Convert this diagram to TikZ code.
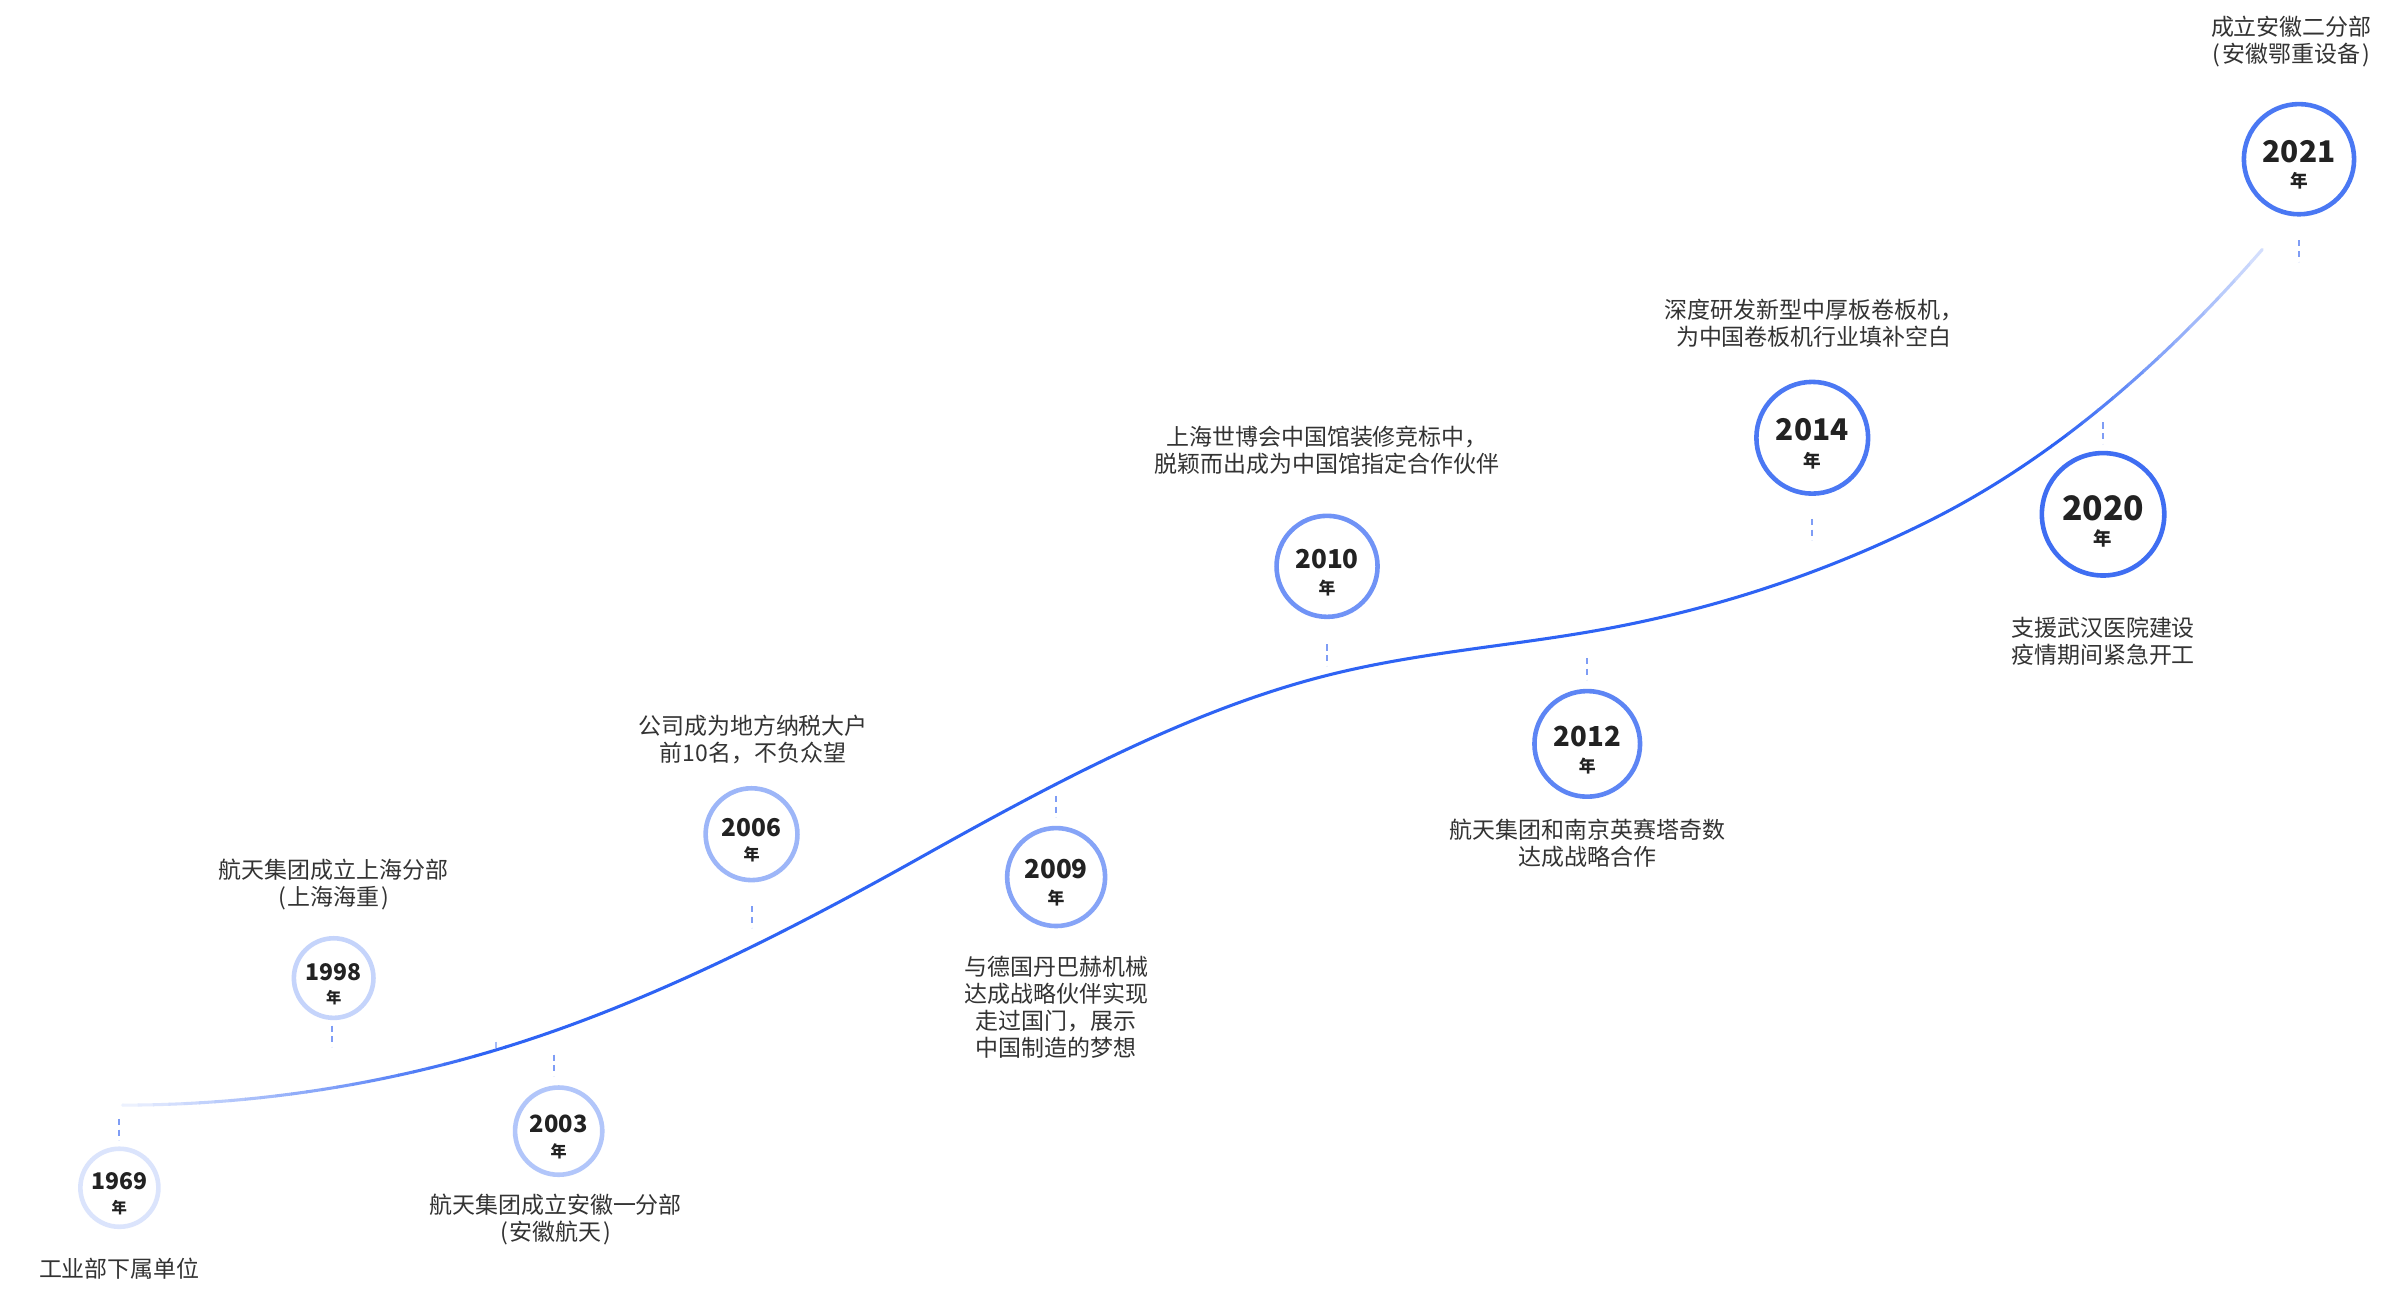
\documentclass[tikz,border=0pt]{standalone}
\usepackage{fontspec}
\setmainfont{Noto Sans CJK SC}
\newfontfamily\cjk{Noto Sans CJK SC}
\definecolor{mainblue}{HTML}{2E63F4}
\definecolor{tickblue}{HTML}{7F9DF5}
\definecolor{txt}{HTML}{333333}
\definecolor{numc}{HTML}{222222}
\definecolor{c1969}{HTML}{DBE4FC}
\definecolor{c1998}{HTML}{C5D4FB}
\definecolor{c2003}{HTML}{B2C6FA}
\definecolor{c2006}{HTML}{9DB6F8}
\definecolor{c2009}{HTML}{86A4F7}
\definecolor{c2010}{HTML}{7093F6}
\definecolor{c2012}{HTML}{5D85F4}
\definecolor{c2014}{HTML}{4B78F3}
\definecolor{c2020}{HTML}{3F6EF2}
\definecolor{c2021}{HTML}{4A78F3}
\newcommand\lpar{\makebox[0.5em][c]{(}}
\newcommand\rpar{\makebox[0.5em][c]{)}}
\newcommand\curvepath{(80,722) .. controls (161,722) and (243,710.3) .. (324,686)
  .. controls (416,658.4) and (508,612.5) .. (600,561)
  .. controls (689.3,511) and (778.7,463.3) .. (868,441)
  .. controls (924.3,426.9) and (980.7,422.6) .. (1037,413)
  .. controls (1111.7,400.3) and (1186.3,377.4) .. (1261,340)
  .. controls (1333.3,303.8) and (1405.7,246.1) .. (1478,163)}
\begin{document}
\begin{tikzpicture}[x=1pt,y=-1pt,
  desc/.style={font=\cjk\fontsize{15}{17.6}\selectfont, text=txt, align=center, inner sep=0},
  yr/.style={circle, draw=#1, line width=3pt, fill=white, inner sep=0},
  tickline/.style={draw=tickblue, line width=1.3pt, dash pattern=on 4pt off 3pt},
  num/.style={font=\cjk\bfseries\fontsize{#1}{#1}\selectfont, text=numc, inner sep=0},
  nian/.style={font=\cjk\bfseries\fontsize{#1}{#1}\selectfont, text=numc, inner sep=0},
  curveline/.style={line width=2pt, line cap=round}]
\useasboundingbox (0,0) rectangle (1568,849);
\fill[white] (0,0) rectangle (1568,849);

% ---- curve with faded ends ----
\foreach \i in {0,...,25} {
  \pgfmathsetmacro\xa{70+\i*10}
  \pgfmathsetmacro\xb{\xa+10.6}
  \pgfmathtruncatemacro\p{min(100,max(8,8+(\xa-75)/235*92))}
  \begin{scope}
    \clip (\xa,0) rectangle (\xb,849);
    \draw[curveline, draw=mainblue!\p!white] \curvepath;
  \end{scope}
}
\begin{scope}
  \clip (330,0) rectangle (1340.6,849);
  \draw[curveline, draw=mainblue] \curvepath;
\end{scope}
\foreach \i in {0,...,15} {
  \pgfmathsetmacro\xa{1340+\i*10}
  \pgfmathsetmacro\xb{\xa+10.6}
  \pgfmathtruncatemacro\p{max(12,100-(\xa-1340)/145*88)}
  \begin{scope}
    \clip (\xa,0) rectangle (\xb,849);
    \draw[curveline, draw=mainblue!\p!white] \curvepath;
  \end{scope}
}
\coordinate (k1) at (324,680.5);
\coordinate (k2) at (324,684.5);
\draw[draw=tickblue!70!white, line width=1pt] (k1) -- (k2);

% ---- ticks ----
\coordinate (t1a) at (78,731);   \coordinate (t1b) at (78,745);
\coordinate (t2a) at (217,670);  \coordinate (t2b) at (217,684);
\coordinate (t3a) at (362,689);  \coordinate (t3b) at (362,703);
\coordinate (t4a) at (491,592);  \coordinate (t4b) at (491,606);
\coordinate (t5a) at (690,520);  \coordinate (t5b) at (690,534);
\coordinate (t6a) at (867,421);  \coordinate (t6b) at (867,435);
\coordinate (t7a) at (1037,430); \coordinate (t7b) at (1037,444);
\coordinate (t8a) at (1184,339); \coordinate (t8b) at (1184,353);
\coordinate (t9a) at (1374,276); \coordinate (t9b) at (1374,290);
\coordinate (t10a) at (1502,157); \coordinate (t10b) at (1502,171);
\foreach \t in {1,...,10} { \draw[tickline] (t\t a) -- (t\t b); }

% ---- year circles ----
\node[yr=c1969, minimum size=51pt] (y1969) at (78,776) {};
\node[num=15] (n1969) at ([yshift=4pt]y1969.center) {1969};
\node[nian=10] (l1969) at ([yshift=-13pt]y1969.center) {年};

\node[yr=c1998, minimum size=52pt] (y1998) at (218,639) {};
\node[num=15] (n1998) at ([yshift=4pt]y1998.center) {1998};
\node[nian=10] (l1998) at ([yshift=-13pt]y1998.center) {年};

\node[yr=c2003, minimum size=57pt] (y2003) at (365,739) {};
\node[num=15.5] (n2003) at ([yshift=4.5pt]y2003.center) {2003};
\node[nian=10.5] (l2003) at ([yshift=-13pt]y2003.center) {年};

\node[yr=c2006, minimum size=60pt] (y2006) at (491,545) {};
\node[num=16] (n2006) at ([yshift=4.5pt]y2006.center) {2006};
\node[nian=10.5] (l2006) at ([yshift=-13pt]y2006.center) {年};

\node[yr=c2009, minimum size=64pt] (y2009) at (690,573) {};
\node[num=17] (n2009) at ([yshift=5pt]y2009.center) {2009};
\node[nian=11] (l2009) at ([yshift=-13.5pt]y2009.center) {年};

\node[yr=c2010, minimum size=66pt] (y2010) at (867,370) {};
\node[num=17] (n2010) at ([yshift=5pt]y2010.center) {2010};
\node[nian=11] (l2010) at ([yshift=-14pt]y2010.center) {年};

\node[yr=c2012, minimum size=69pt] (y2012) at (1037,486) {};
\node[num=18] (n2012) at ([yshift=5pt]y2012.center) {2012};
\node[nian=11] (l2012) at ([yshift=-14.5pt]y2012.center) {年};

\node[yr=c2014, minimum size=73pt] (y2014) at (1184,286) {};
\node[num=19.5] (n2014) at ([yshift=5pt]y2014.center) {2014};
\node[nian=11.5] (l2014) at ([yshift=-15pt]y2014.center) {年};

\node[yr=c2020, minimum size=80pt] (y2020) at (1374,336) {};
\node[num=22] (n2020) at ([yshift=4pt]y2020.center) {2020};
\node[nian=12] (l2020) at ([yshift=-16pt]y2020.center) {年};

\node[yr=c2021, minimum size=72pt] (y2021) at (1502,104) {};
\node[num=19.5] (n2021) at ([yshift=5pt]y2021.center) {2021};
\node[nian=11.5] (l2021) at ([yshift=-14pt]y2021.center) {年};

% ---- descriptions ----
\node[desc] (d1969) at (78,829) {工业部下属单位};
\node[desc] (d1998) at (218,578) {航天集团成立上海分部\\\lpar 上海海重\rpar};
\node[desc] (d2003) at (363,797) {航天集团成立安徽一分部\\\lpar 安徽航天\rpar};
\node[desc] (d2006) at (492,483) {公司成为地方纳税大户\\前10名，不负众望};
\node[desc] (d2009) at (690,658) {与德国丹巴赫机械\\达成战略伙伴实现\\走过国门，展示\\中国制造的梦想};
\node[desc] (d2010) at (867,294) {上海世博会中国馆装修竞标中，\\脱颖而出成为中国馆指定合作伙伴};
\node[desc] (d2012) at (1037,551) {航天集团和南京英赛塔奇数\\达成战略合作};
\node[desc] (d2014) at (1185,211) {深度研发新型中厚板卷板机，\\为中国卷板机行业填补空白};
\node[desc] (d2020) at (1374,419) {支援武汉医院建设\\疫情期间紧急开工};
\node[desc] (d2021) at (1497,27) {成立安徽二分部\\\lpar 安徽鄂重设备\rpar};
\end{tikzpicture}
\end{document}
